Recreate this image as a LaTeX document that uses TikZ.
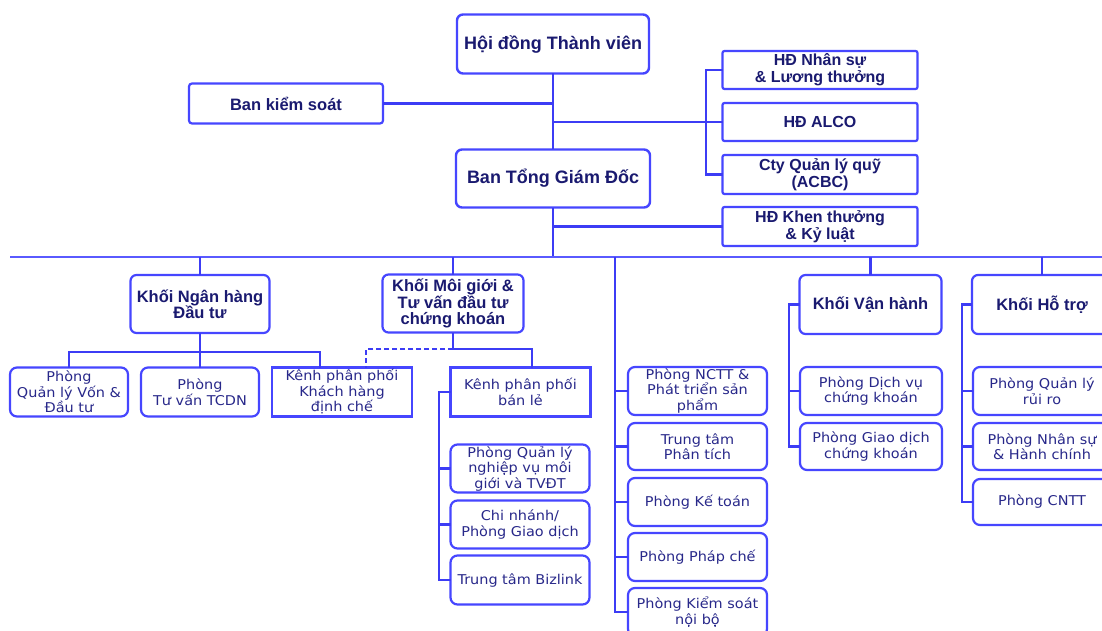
\documentclass[tikz,border=0pt]{standalone}
\usepackage{fontspec}
\setmainfont{Liberation Sans}
\newfontfamily\lowfont[FakeStretch=1.07]{DejaVu Sans}
\usetikzlibrary{calc}
\definecolor{lineblue}{HTML}{3C3CF5}
\definecolor{mainblue}{HTML}{5A5AFF}
\definecolor{boxblue}{HTML}{4646FF}
\definecolor{navy}{HTML}{1A1A70}
\definecolor{txt}{HTML}{28288A}
\begin{document}
\begin{tikzpicture}[x=1pt,y=-1pt,
 conn/.style={draw=lineblue,line width=2.2pt},
 mainline/.style={draw=mainblue,line width=2.8pt},
 dashconn/.style={conn,dash pattern=on 5pt off 3pt},
 size/.style 2 args={minimum width=#1pt,minimum height=#2pt},
 base/.style={draw=boxblue,fill=white,line width=2.2pt,inner sep=1pt,outer sep=0pt,align=center},
 topbox/.style={base,rounded corners=6pt,line width=2.4pt,text=navy,font=\bfseries\fontsize{18}{21}\selectfont},
 hdbox/.style={base,rounded corners=2pt,text=navy,font=\bfseries\fontsize{16}{17}\selectfont},
 khoi/.style={base,rounded corners=6pt,text=navy,font=\bfseries\fontsize{16.5}{16.5}\selectfont},
 sub/.style={base,rounded corners=7pt,text=txt,font=\lowfont\fontsize{13.5}{15.5}\selectfont},
 subsq/.style={sub,rounded corners=0pt,line width=2.6pt},
]
\useasboundingbox (0,0) rectangle (1102,631);
\fill[white] (0,0) rectangle (1102,631);

% ---- top level
\node[topbox,size={192}{59}] (hdtv) at (553,44) {Hội đồng Thành viên};
\node[hdbox,size={194}{40},rounded corners=3pt,font=\bfseries\fontsize{16.5}{18}\selectfont] (bks) at (286,103.5) {Ban kiểm soát};
\node[topbox,size={194}{58}] (btgd) at (553,178.5) {Ban Tổng Giám Đốc};
\node[hdbox,size={195}{38}] (hdns) at (820,70) {HĐ Nhân sự\\\& Lương thưởng};
\node[hdbox,size={195}{38}] (alco) at (820,122) {HĐ ALCO};
\node[hdbox,size={195}{39}] (cty) at (820,174.5) {Cty Quản lý quỹ\\(ACBC)};
\node[hdbox,size={195}{39}] (hdkt) at (820,226.5) {HĐ Khen thưởng\\\& Kỷ luật};

% ---- blocks
\node[khoi,size={139}{58}] (knh) at (200,304) {Khối Ngân hàng\\Đầu tư};
\node[khoi,size={141}{58}] (kmg) at (453,303.5) {Khối Môi giới \&\\Tư vấn đầu tư\\chứng khoán};
\node[khoi,size={142}{59}] (kvh) at (870.5,304.5) {Khối Vận hành};
\node[khoi,size={140}{59}] (kht) at (1042,304.5) {Khối Hỗ trợ};

% ---- departments
\node[sub,size={118}{49}] (qlv) at (69,392) {Phòng\\Quản lý Vốn \&\\Đầu tư};
\node[sub,size={118}{49}] (tvt) at (200,392) {Phòng\\Tư vấn TCDN};
\node[subsq,size={140}{49}] (kdc) at (342,392) {Kênh phân phối\\Khách hàng\\định chế};
\node[subsq,size={140}{49}] (kbl) at (520.5,392) {Kênh phân phối\\bán lẻ};
\node[sub,size={139}{48}] (qlnv) at (520,468.5) {Phòng Quản lý\\nghiệp vụ môi\\giới và TVĐT};
\node[sub,size={139}{48}] (cn) at (520,524.5) {Chi nhánh/\\Phòng Giao dịch};
\node[sub,size={139}{49}] (biz) at (520,580) {Trung tâm Bizlink};

\node[sub,size={139}{48}] (ncTT) at (697.5,391) {Phòng NCTT \&\\Phát triển sản\\phẩm};
\node[sub,size={139}{47}] (ttpt) at (697.5,446.5) {Trung tâm\\Phân tích};
\node[sub,size={139}{48}] (kt) at (697.5,502) {Phòng Kế toán};
\node[sub,size={139}{48}] (pc) at (697.5,557) {Phòng Pháp chế};
\node[sub,size={139}{48}] (ksnb) at (697.5,612) {Phòng Kiểm soát\\nội bộ};

\node[sub,size={142}{48}] (dvck) at (871,391) {Phòng Dịch vụ\\chứng khoán};
\node[sub,size={142}{47}] (gdck) at (871,446.5) {Phòng Giao dịch\\chứng khoán};

\node[sub,size={138}{48}] (qlrr) at (1042,391) {Phòng Quản lý\\rủi ro};
\node[sub,size={138}{47}] (nshc) at (1042,446.5) {Phòng Nhân sự\\\& Hành chính};
\node[sub,size={138}{46}] (cntt) at (1042,502) {Phòng CNTT};

% ---- helper coordinates
\coordinate (ml) at (10,257);
\coordinate (mr) at (1102,257);
\coordinate (tx) at (706,0);
\coordinate (nhbar) at (200,352);
\coordinate (kdcT) at (320,0);
\coordinate (kdcD) at (366,0);
\coordinate (mgbar) at (453,349);
\coordinate (kblT) at (532,0);
\coordinate (bx) at (439,0);
\coordinate (cx) at (615,0);
\coordinate (vx) at (789,0);
\coordinate (hx) at (962,0);

% ---- connectors
\draw[conn] (hdtv.south) -- (btgd.north);
\draw[conn] (bks.east) -- (bks.east -| hdtv.south);
\draw[conn] (hdtv.south |- alco.west) -- (alco.west);
\draw[conn] (hdns.west) -| (tx |- cty.west) -- (cty.west);
\draw[conn] (btgd.south) -- (btgd.south |- ml);
\draw[conn] (btgd.south |- hdkt.west) -- (hdkt.west);
\draw[mainline] (ml) -- (mr);

\draw[conn] (knh.north |- ml) -- (knh.north);
\draw[conn] (kmg.north |- ml) -- (kmg.north);
\draw[conn] (kvh.north |- ml) -- (kvh.north);
\draw[conn] (kht.north |- ml) -- (kht.north);

\draw[conn] (knh.south) -- (tvt.north);
\draw[conn] (qlv.north) |- (kdcT |- nhbar) -- (kdcT |- kdc.north);

\draw[conn] (kmg.south) -- (kmg.south |- mgbar) -| (kblT |- kbl.north);
\draw[dashconn] (kmg.south |- mgbar) -| (kdcD |- kdc.north);

\draw[conn] (kbl.west) -| (bx |- biz.west) -- (biz.west);
\draw[conn] (qlnv.west) -- (qlnv.west -| bx);
\draw[conn] (cn.west) -- (cn.west -| bx);

\draw[conn] (cx |- ml) |- (ksnb.west);
\draw[conn] (ncTT.west) -- (ncTT.west -| cx);
\draw[conn] (ttpt.west) -- (ttpt.west -| cx);
\draw[conn] (kt.west) -- (kt.west -| cx);
\draw[conn] (pc.west) -- (pc.west -| cx);

\draw[conn] (kvh.west) -| (vx |- gdck.west) -- (gdck.west);
\draw[conn] (dvck.west) -- (dvck.west -| vx);

\draw[conn] (kht.west) -| (hx |- cntt.west) -- (cntt.west);
\draw[conn] (qlrr.west) -- (qlrr.west -| hx);
\draw[conn] (nshc.west) -- (nshc.west -| hx);
\end{tikzpicture}
\end{document}
